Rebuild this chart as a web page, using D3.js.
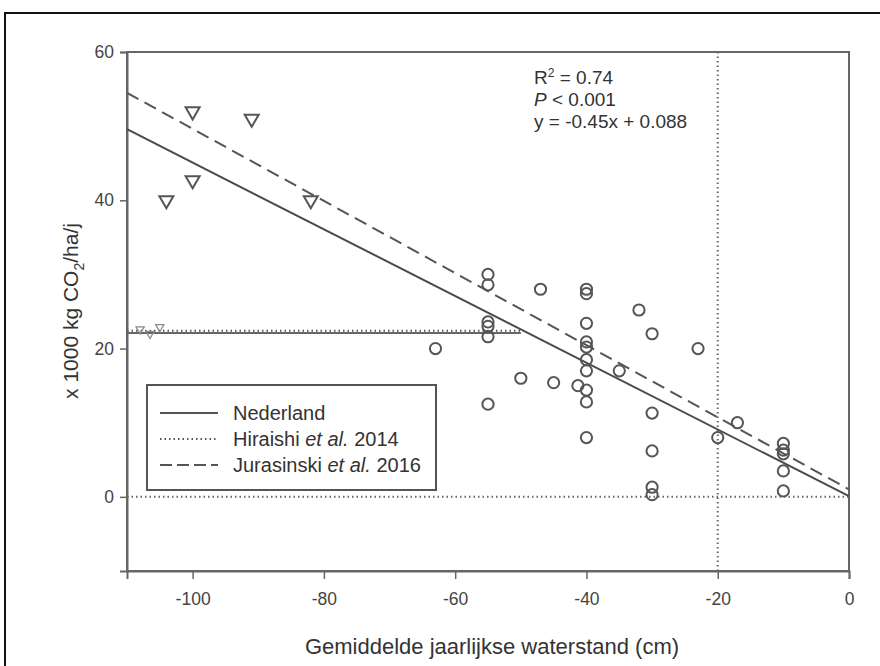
<!DOCTYPE html>
<html>
<head>
<meta charset="utf-8">
<script src="https://cdn.jsdelivr.net/npm/d3@7"></script>
<style>
  body { margin: 0; background: #fff; }
  svg { font-family: "Liberation Sans", Arial, sans-serif; }
</style>
</head>
<body>
<div class="chart"></div>
<script>
var circleX = [-55, -55, -47, -40, -40, -32, -55, -55, -55, -40, -30, -63, -23, -40, -40, -40, -40, -35, -50, -45, -41.3, -40, -40, -55, -30, -40, -20, -30, -30, -30, -17, -10, -10, -10, -10, -10];
var circleY = [30, 28.6, 28, 28, 27.4, 25.2, 23.6, 23, 21.6, 23.4, 22, 20, 20, 20.9, 20.2, 18.5, 17, 17, 16, 15.4, 15, 14.4, 12.8, 12.5, 11.3, 8, 8, 6.2, 1.3, 0.3, 10, 7.2, 6.3, 5.8, 3.5, 0.8];

var triX = [-104, -100, -100, -91, -82];
var triY = [40, 52, 42.7, 51, 40];
// tiny faded markers at the left end of the Hiraishi line
var smallTriX = [-108, -106.5, -105];
var smallTriY = [22.6, 22.0, 22.9];

// regression lines
var nlSlope = -0.45, nlIntercept = 0.088;
var juX = [-110, 0], juY = [54.5, 1];
var hiX = [-110, -50], hiY = 22.4;

var xTicks = [-100, -80, -60, -40, -20, 0];
var yTicks = [0, 20, 40, 60];

var legendNames = ["Nederland", "Hiraishi", "Jurasinski"];
var legendRest = [["", ""], [" et al.", " 2014"], [" et al.", " 2016"]];

var W = 880, H = 666;
var svg = d3.select(".chart").append("svg").attr("width", W).attr("height", H);

// outer frame (runs off the picture on right and bottom)
svg.append("rect").attr("x", 5).attr("y", 13).attr("width", 900).attr("height", 700)
  .attr("fill", "none").attr("stroke", "#111").attr("stroke-width", 2);

var x = d3.scaleLinear().domain([-110, 0]).range([127, 849]);
var y = d3.scaleLinear().domain([-10, 60]).range([571, 52]);

var ink = "#4a4a4a";

// frame of plot
svg.append("rect").attr("x", 127).attr("y", 52).attr("width", 722).attr("height", 519)
  .attr("fill", "none").attr("stroke", "#666").attr("stroke-width", 2);

var xAxis = svg.append("g").attr("transform", "translate(0,571)")
  .call(d3.axisBottom(x).tickValues(xTicks).tickSize(8).tickPadding(14).tickFormat(function(d) { return String(d); }));
var yAxis = svg.append("g").attr("transform", "translate(127,0)")
  .call(d3.axisLeft(y).tickValues(yTicks).tickSize(7).tickPadding(6).tickFormat(function(d) { return String(d); }));
[xAxis, yAxis].forEach(function(a) {
  a.select(".domain").attr("stroke", "#666").attr("stroke-width", 2);
  a.selectAll(".tick line").attr("stroke", "#666").attr("stroke-width", 1.5);
  a.selectAll(".tick text").attr("fill", "#444").style("font-size", "17.5px")
    .style("font-family", "Liberation Sans, Arial, sans-serif");
});

// reference lines
svg.append("line").attr("x1", x(-110)).attr("x2", x(0)).attr("y1", y(0)).attr("y2", y(0))
  .attr("stroke", "#666").attr("stroke-width", 2).attr("stroke-dasharray", "1.5,3");
svg.append("line").attr("x1", x(-20)).attr("x2", x(-20)).attr("y1", y(-10)).attr("y2", y(60))
  .attr("stroke", "#666").attr("stroke-width", 2).attr("stroke-dasharray", "1.5,3");

// Hiraishi line: thin solid base with dots on top
svg.append("line").attr("x1", x(hiX[0])).attr("x2", x(hiX[1])).attr("y1", y(hiY - 0.3)).attr("y2", y(hiY - 0.3))
  .attr("stroke", "#666").attr("stroke-width", 1.8);
svg.append("line").attr("x1", x(hiX[0])).attr("x2", x(hiX[1])).attr("y1", y(hiY)).attr("y2", y(hiY))
  .attr("stroke", "#555").attr("stroke-width", 2).attr("stroke-dasharray", "1.5,3");

// Nederland regression
var line = d3.line().x(function(d) { return x(d[0]); }).y(function(d) { return y(d[1]); });
svg.append("path")
  .attr("d", line([[-110, nlSlope * -110 + nlIntercept], [0, nlIntercept]]))
  .attr("fill", "none").attr("stroke", ink).attr("stroke-width", 2);
// Jurasinski
svg.append("path")
  .attr("d", line(d3.zip(juX, juY)))
  .attr("fill", "none").attr("stroke", "#555").attr("stroke-width", 2).attr("stroke-dasharray", "13,7");

// circles
svg.append("g").selectAll("circle").data(d3.zip(circleX, circleY)).enter().append("circle")
  .attr("cx", function(d) { return x(d[0]); })
  .attr("cy", function(d) { return y(d[1]); })
  .attr("r", 5.6).attr("fill", "none").attr("stroke", "#555").attr("stroke-width", 2);

// down triangles
var tri = d3.symbol().type(d3.symbolTriangle).size(85);
svg.append("g").selectAll("path").data(d3.zip(triX, triY)).enter().append("path")
  .attr("d", tri)
  .attr("transform", function(d) { return "translate(" + x(d[0]) + "," + y(d[1]) + ") rotate(180)"; })
  .attr("fill", "none").attr("stroke", "#555").attr("stroke-width", 2);
var tri2 = d3.symbol().type(d3.symbolTriangle).size(30);
svg.append("g").selectAll("path").data(d3.zip(smallTriX, smallTriY)).enter().append("path")
  .attr("d", tri2)
  .attr("transform", function(d) { return "translate(" + x(d[0]) + "," + y(d[1]) + ") rotate(180)"; })
  .attr("fill", "none").attr("stroke", "#888").attr("stroke-width", 1.2);

// stats annotation
var ann = svg.append("g").attr("fill", "#333").style("font-size", "19px");
var t1 = ann.append("text").attr("x", 534).attr("y", 84);
t1.append("tspan").text("R");
t1.append("tspan").attr("dy", -7).style("font-size", "12px").text("2");
t1.append("tspan").attr("dy", 7).text(" = 0.74");
var t2 = ann.append("text").attr("x", 534).attr("y", 106);
t2.append("tspan").style("font-style", "italic").text("P");
t2.append("tspan").text(" < 0.001");
ann.append("text").attr("x", 534).attr("y", 128).text("y = -0.45x + 0.088");

// legend
var lg = svg.append("g");
lg.append("rect").attr("x", 147).attr("y", 385).attr("width", 289).attr("height", 105)
  .attr("fill", "#fff").attr("stroke", "#555").attr("stroke-width", 2);
var dashes = [null, "1.5,3", "12,5"];
legendNames.forEach(function(n, i) {
  var yy = 413 + i * 26;
  lg.append("line").attr("x1", 160).attr("x2", 218).attr("y1", yy).attr("y2", yy)
    .attr("stroke", "#555").attr("stroke-width", i === 1 ? 2 : 1.8)
    .attr("stroke-dasharray", dashes[i]);
  var t = lg.append("text").attr("x", 233).attr("y", yy + 7).attr("fill", "#333").style("font-size", "20px");
  t.append("tspan").text(n);
  t.append("tspan").style("font-style", "italic").text(legendRest[i][0]);
  t.append("tspan").text(legendRest[i][1]);
});

// axis titles
svg.append("text").attr("x", 492).attr("y", 654).attr("text-anchor", "middle")
  .attr("fill", "#333").style("font-size", "22px").text("Gemiddelde jaarlijkse waterstand (cm)");
var yl = svg.append("text").attr("transform", "translate(78,311) rotate(-90)").attr("text-anchor", "middle")
  .attr("fill", "#333").style("font-size", "21px");
yl.append("tspan").text("x 1000 kg CO");
yl.append("tspan").attr("dy", 6).style("font-size", "14px").text("2");
yl.append("tspan").attr("dy", -6).text("/ha/j");
</script>
</body>
</html>
